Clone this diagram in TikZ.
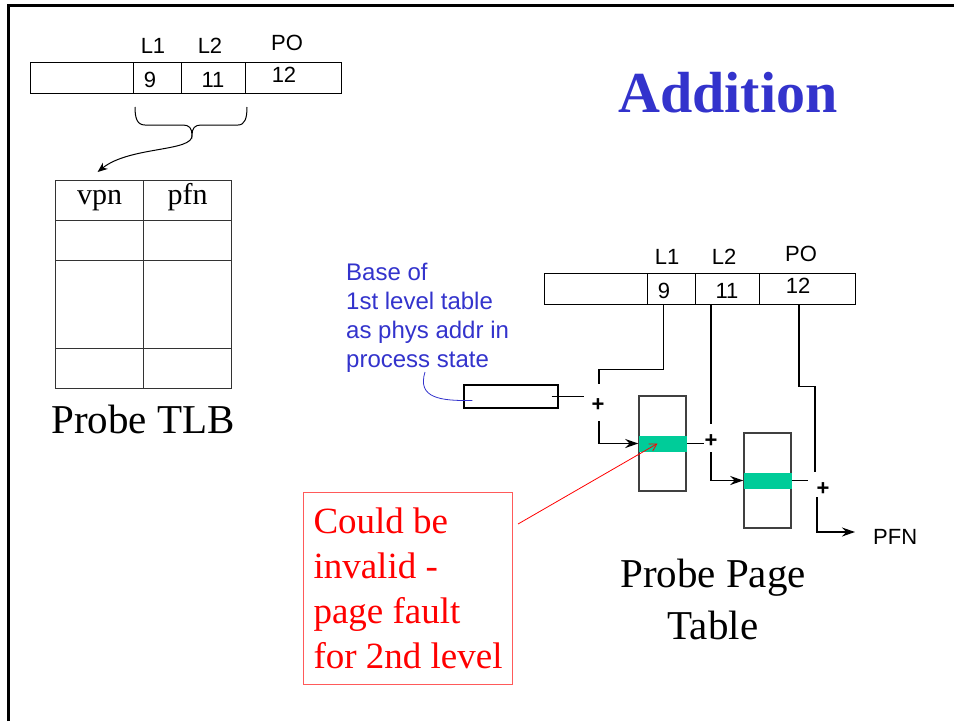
\documentclass[tikz,border=0pt]{standalone}
\usepackage{fontspec}
\setmainfont{Liberation Serif}
\setsansfont{Liberation Sans}
\usepackage{tikz}
\usetikzlibrary{arrows.meta,calc}
\definecolor{TitleBlue}{RGB}{51,51,204}
\definecolor{SlotGreen}{RGB}{0,204,153}
\definecolor{NoteRed}{RGB}{255,0,0}
\definecolor{NoteEdge}{RGB}{255,90,90}

\begin{document}
\begin{tikzpicture}[x=1pt,y=-1pt,>={Stealth[length=13pt,width=9pt]},
  fld/.style={draw,line width=1.2pt,minimum height=31pt,inner sep=0pt,anchor=north west},
  lbl/.style={font=\sffamily\fontsize{22}{22}\selectfont,inner sep=0pt},
  cell/.style={draw=black!80,line width=1.2pt,minimum width=88pt,inner sep=0pt,anchor=north west,
    text height=18pt,text depth=10pt,font=\fontsize{30}{30}\selectfont},
  ptab/.style={draw=black!75,line width=1.5pt,minimum width=47pt,minimum height=95pt,inner sep=0pt},
  slot/.style={fill=SlotGreen,minimum width=48pt,minimum height=16pt,inner sep=0pt},
  plus/.style={font=\sffamily\bfseries\fontsize{22}{22}\selectfont,inner sep=0pt},
  wire/.style={line width=1.3pt},
  big/.style={font=\fontsize{41}{52}\selectfont,align=center,inner sep=0pt}]

\useasboundingbox (0,0) rectangle (954,721);
\draw[line width=3pt] (8.5,721) -- (8.5,5) -- (954,5);

% virtual address, twice
\foreach \ox/\oy/\r in {30/62/t,544/273/r} {
  \node[fld,minimum width=103pt] (\r E) at (\ox,\oy) {};
  \node[fld,minimum width=48pt] (\r 1) at (\ox+103,\oy) {};
  \node[fld,minimum width=64pt] (\r 2) at (\ox+151,\oy) {};
  \node[fld,minimum width=96pt] (\r P) at (\ox+215,\oy) {};
  \node[lbl] (\r L1) at (\ox+123,\oy-16) {L1};
  \node[lbl] (\r L2) at (\ox+180,\oy-16) {L2};
  \node[lbl] (\r LP) at (\ox+257,\oy-19) {PO};
  \node[lbl] (\r N1) at (\ox+120,\oy+18) {9};
  \node[lbl] (\r N2) at (\ox+183,\oy+18) {11};
  \node[lbl] (\r NP) at (\ox+254,\oy+13) {12};
}

\node[font=\bfseries\fontsize{58}{58}\selectfont,text=TitleBlue,inner sep=0pt] (title) at (728,93) {Addition};

% TLB
\node[cell,minimum height=40pt] (c1a) at (55,180) {vpn};
\node[cell,minimum height=40pt] (c1b) at (143,180) {pfn};
\foreach \y/\h [count=\i from 2] in {220/40,260/88,348/40} {
  \node[cell,minimum height=\h] (c\i a) at (55,\y) {};
  \node[cell,minimum height=\h] (c\i b) at (143,\y) {};
}
\node[big,anchor=base] (tlbcap) at (143,433) {Probe TLB};

% brace over L1+L2
\draw[line width=1pt] (135,107) .. controls (135,118) and (137,125) .. (145,125) -- (183,125)
  .. controls (189,125) and (192,128) .. (192,135)
  .. controls (192,128) and (195,125) .. (201,125) -- (238,125)
  .. controls (245,125) and (247,118) .. (247,107);
\coordinate (bt) at (192,135);
\draw[line width=1pt,-{Stealth[length=10pt,width=8pt]}] (bt) .. controls (194,152) and (130,146) .. ($(c1a.north)+(-2,-8)$);

% page table walk
\node[font=\sffamily\fontsize{24}{29}\selectfont,text=TitleBlue,align=left,anchor=north west,inner sep=0pt]
  (basenote) at (346,263) {Base of\\1st level table\\as phys addr in\\process state};
\node[draw,line width=1.2pt,minimum width=94pt,minimum height=23pt,inner sep=0pt] (bb) at (511,396.5) {};
\coordinate (cb) at (425,372);
\draw[TitleBlue,line width=0.8pt] (cb) .. controls (417,398) and (440,401) .. ($(bb.west)+(9,4)$);

\node[ptab] (pt1) at (662.5,443.5) {};
\node[slot] (s1) at (pt1) {};
\node[ptab] (pt2) at (767.5,480.5) {};
\node[slot] (s2) at (pt2) {};

\node[plus] (p1) at (598,405) {+};
\node[plus] (p2) at (711,441) {+};
\node[plus] (p3) at (823,489) {+};

\draw[wire] ([xshift=-7pt]bb.east) -- ++(32,0);
\draw[wire] ($(r1.south)+(-8,0)$) -- ++(0,64) -| (599,384);
\draw[wire,->] (599,421) |- (pt1.west);
\draw[wire] (pt1.east) -- ++(17,0);
\draw[wire] ($(r2.south west)+(16,0)$) -- (711,424);
\draw[wire,->] (711,452) |- (pt2.west);
\draw[wire] (pt2.east) -- ++(16,0);
\draw[wire] ($(rP.south west)+(40,0)$) -- ++(0,81) -| (815,472);
\node[lbl,anchor=west] (pfn) at (873,537) {PFN};
\draw[wire,->] (817,497) |- ($(pfn.west)+(-18,-5)$);
\node[big,anchor=north] (ptcap) at (713,559) {Probe Page\\Table};

% note
\node[draw=NoteEdge,line width=1pt,text=NoteRed,font=\fontsize{37}{45}\selectfont,align=left,
  anchor=north west,inner xsep=10pt,inner ysep=15.5pt]
  (note) at (303,492) {Could be\\invalid -\\page fault\\for 2nd level};
\draw[NoteRed,line width=0.8pt,-{Straight Barb[length=7pt,width=8pt]}]
  ($(note.north east)+(5,32)$) -- ([xshift=-5pt]s1.center);
\end{tikzpicture}
\end{document}
